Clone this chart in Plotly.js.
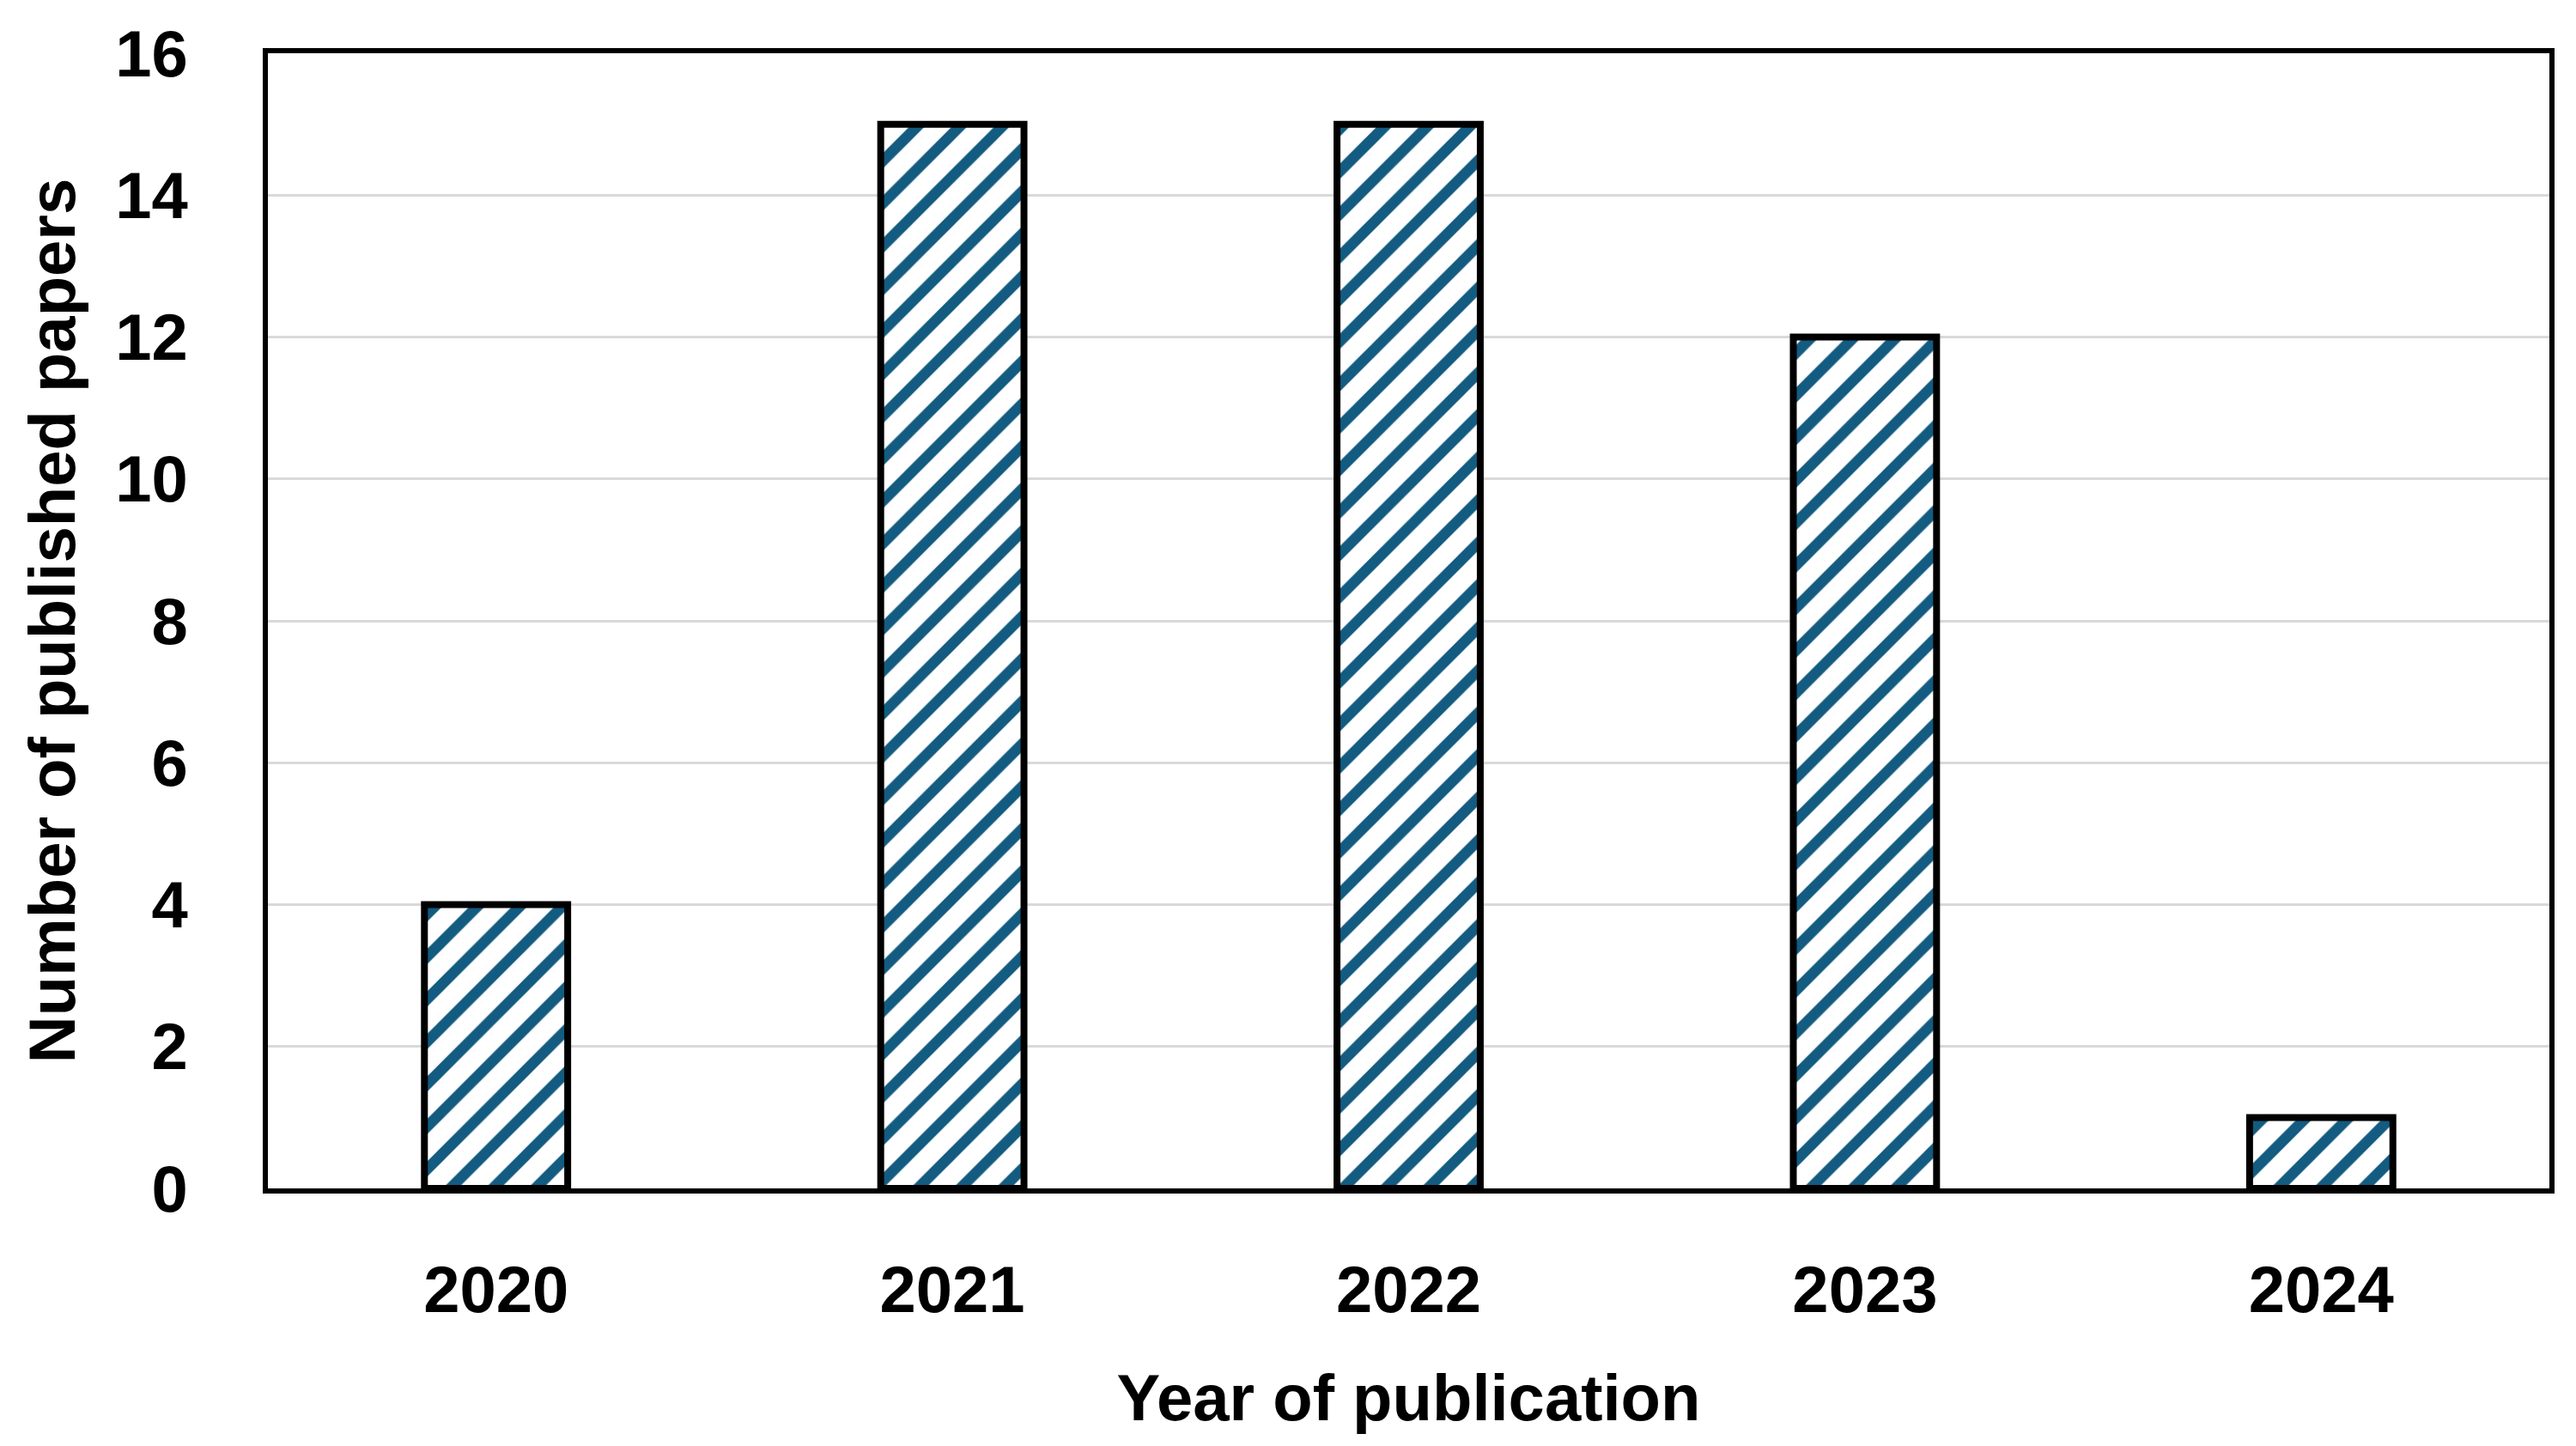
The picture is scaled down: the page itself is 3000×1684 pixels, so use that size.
<!DOCTYPE html>
<html>
<head>
<meta charset="utf-8">
<script src="https://cdn.plot.ly/plotly-3.0.1.min.js"></script>
<style>html,body{margin:0;padding:0;background:#fff;}#chart{width:3000px;height:1684px;}</style>
</head>
<body>
<div id="chart"></div>
<script>
const years = ['2020', '2021', '2022', '2023', '2024'];
const papers = [4, 15, 15, 12, 1];
const yTicks = [0, 2, 4, 6, 8, 10, 12, 14, 16];
const xTitle = 'Year of publication';
const yTitle = 'Number of published papers';

const FONT = '"Liberation Sans", Arial, sans-serif';

const trace = {
  type: 'bar',
  x: years,
  y: papers,
  marker: {
    color: '#ffffff',
    line: {color: '#000000', width: 8},
    pattern: {shape: '/', fgcolor: '#135b80', bgcolor: '#ffffff', size: 35, solidity: 0.36, fillmode: 'replace'}
  },
  hoverinfo: 'none'
};

const layout = {
  width: 3000,
  height: 1684,
  paper_bgcolor: '#ffffff',
  plot_bgcolor: '#ffffff',
  margin: {l: 312, r: 31, t: 62, b: 300, pad: 0},
  bargap: 0.686,
  showlegend: false,
  font: {family: FONT, color: '#000000', size: 76, weight: 'bold'},
  xaxis: {
    type: 'category',
    showline: true, mirror: true, linecolor: '#000000', linewidth: 6,
    showgrid: false, zeroline: false, ticks: '',
    ticklabelstandoff: 47,
    tickfont: {family: FONT, size: 76, color: '#000000', weight: 'bold'},
    title: {text: xTitle, standoff: 60, font: {family: FONT, size: 76, color: '#000000', weight: 'bold'}}
  },
  yaxis: {
    range: [0, 16],
    tickvals: yTicks,
    ticktext: yTicks.map(String),
    showline: true, mirror: true, linecolor: '#000000', linewidth: 6,
    showgrid: true, gridcolor: '#d9d9d9', gridwidth: 3,
    zeroline: false, ticks: '',
    ticklabelstandoff: 72,
    tickfont: {family: FONT, size: 76, color: '#000000', weight: 'bold'},
    title: {text: yTitle, standoff: 24, font: {family: FONT, size: 76, color: '#000000', weight: 'bold'}}
  }
};

Plotly.newPlot('chart', [trace], layout, {staticPlot: true, displayModeBar: false});
</script>
</body>
</html>
